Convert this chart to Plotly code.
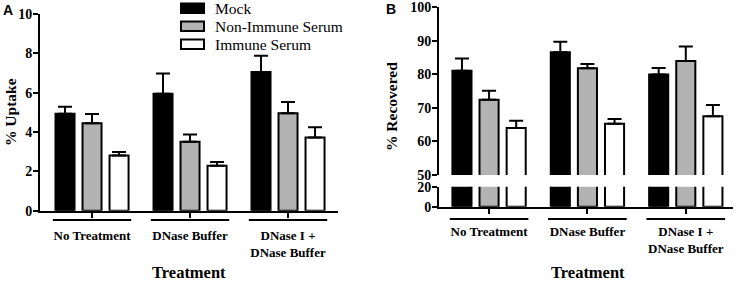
import plotly.graph_objects as go

W, H = 737, 281

categories = ["No Treatment", "DNase Buffer", "DNase I +<br>DNase Buffer"]
series_names = ["Mock", "Non-Immune Serum", "Immune Serum"]
series_colors = ["#000000", "#b3b3b3", "#ffffff"]

# Panel A: % Uptake
uptake_mock = [4.93, 5.95, 7.05]
uptake_mock_err = [0.36, 1.03, 0.83]
uptake_nonimmune = [4.45, 3.50, 4.95]
uptake_nonimmune_err = [0.47, 0.38, 0.57]
uptake_immune = [2.80, 2.28, 3.72]
uptake_immune_err = [0.19, 0.20, 0.52]

# Panel B: % Recovered
recovered_mock = [81.1, 86.6, 80.0]
recovered_mock_err = [3.6, 3.1, 1.9]
recovered_nonimmune = [72.4, 81.8, 84.0]
recovered_nonimmune_err = [2.7, 1.3, 4.3]
recovered_immune = [64.0, 65.3, 67.5]
recovered_immune_err = [2.2, 1.4, 3.4]

uptake = [(uptake_mock, uptake_mock_err), (uptake_nonimmune, uptake_nonimmune_err),
          (uptake_immune, uptake_immune_err)]
recovered = [(recovered_mock, recovered_mock_err), (recovered_nonimmune, recovered_nonimmune_err),
             (recovered_immune, recovered_immune_err)]

SERIF = "Liberation Serif, Times New Roman, serif"
SANS = "Liberation Sans, Arial, sans-serif"
xpos = list(range(len(categories)))

def px_x(p):
    return p / W

def px_y(p):
    return 1 - p / H

fig = go.Figure()

def add_bars(data, xa, ya, err=True):
    for i, (name, color) in enumerate(zip(series_names, series_colors)):
        vals, errs = data[i]
        fig.add_trace(go.Bar(
            x=xpos, y=vals, name=name, xaxis=xa, yaxis=ya,
            marker=dict(color=color, line=dict(color="black", width=2)),
            error_y=dict(type="data", array=errs, arrayminus=[0] * len(errs),
                         symmetric=False, color="black", thickness=2, width=7,
                         visible=err),
            showlegend=False, offsetgroup=str(i), hoverinfo="skip",
        ))

add_bars(uptake, "x", "y")
add_bars(recovered, "x2", "y2")
add_bars(recovered, "x2", "y3", err=False)

tick_font = dict(family=SERIF, size=14, color="black", weight="bold")
axis_common = dict(showline=True, linewidth=2, linecolor="black", ticks="outside",
                   tickwidth=2, ticklen=5, tickcolor="black", showgrid=False, zeroline=False,
                   automargin=False, tickfont=tick_font)
ycommon = dict(axis_common, ticklabelstandoff=-2)

xcommon = dict(axis_common, tickvals=xpos, ticktext=categories, ticklabelstandoff=7,
               tickfont=dict(family=SERIF, size=13, color="black", weight="bold"))

fig.update_layout(
    width=W, height=H, margin=dict(l=0, r=0, t=0, b=0, autoexpand=False),
    paper_bgcolor="white", plot_bgcolor="white", showlegend=False,
    barmode="group", bargap=0.173, bargroupgap=0.296,
    xaxis=dict(xcommon, domain=[px_x(40), px_x(338)], range=[-0.531, 2.51], anchor="y"),
    yaxis=dict(ycommon, domain=[px_y(210.7), px_y(14)], range=[0, 10], dtick=2, anchor="x"),
    xaxis2=dict(xcommon, domain=[px_x(439), px_x(733)], range=[-0.509, 2.48], anchor="y3"),
    yaxis2=dict(ycommon, domain=[px_y(175), px_y(7.3)], range=[50, 100], dtick=10, anchor="x2"),
    yaxis3=dict(ycommon, domain=[px_y(206.7), px_y(186.7)], range=[0, 20],
                tickvals=[0, 20], anchor="x2"),
)

shapes = []
for xr, yl in (("x", 220), ("x2", 219)):
    for i in xpos:
        shapes.append(dict(type="line", xref=xr, yref="paper", x0=i - 0.4, x1=i + 0.4,
                           y0=px_y(yl), y1=px_y(yl), line=dict(color="black", width=2)))

ann = []
# legend (swatches + labels)
for k, (name, color) in enumerate(zip(series_names, series_colors)):
    top = 3.5 + 18 * k
    shapes.append(dict(type="rect", xref="paper", yref="paper",
                       x0=px_x(181), x1=px_x(204), y0=px_y(top + 9.5), y1=px_y(top),
                       fillcolor=color, line=dict(color="black", width=2)))
    ann.append(dict(text=name, xref="paper", yref="paper", x=px_x(213), y=px_y(top + 4.8),
                    xanchor="left", yanchor="middle", showarrow=False,
                    font=dict(family=SERIF, size=15.5, color="black")))
fig.update_layout(shapes=shapes)

for xc in (189, 588):
    ann.append(dict(text="Treatment", xref="paper", yref="paper", x=px_x(xc), y=px_y(272),
                    xanchor="center", yanchor="middle", showarrow=False,
                    font=dict(family=SERIF, size=16.5, color="black", weight="bold")))
ann.append(dict(text="% Uptake", xref="paper", yref="paper", x=px_x(10), y=px_y(112),
                xanchor="center", yanchor="middle", textangle=-90, showarrow=False,
                font=dict(family=SERIF, size=15.5, color="black", weight="bold")))
ann.append(dict(text="% Recovered", xref="paper", yref="paper", x=px_x(391), y=px_y(107),
                xanchor="center", yanchor="middle", textangle=-90, showarrow=False,
                font=dict(family=SERIF, size=15.5, color="black", weight="bold")))
ann.append(dict(text="A", xref="paper", yref="paper", x=px_x(8), y=px_y(10),
                xanchor="center", yanchor="middle",
                showarrow=False, font=dict(family=SANS, size=14, color="black", weight="bold")))
ann.append(dict(text="B", xref="paper", yref="paper", x=px_x(391), y=px_y(9),
                xanchor="center", yanchor="middle",
                showarrow=False, font=dict(family=SANS, size=14, color="black", weight="bold")))
fig.update_layout(annotations=ann)

fig.write_html("out.html", config={"displayModeBar": False},
               post_script="document.body.style.margin='0';document.body.style.overflow='hidden';")
